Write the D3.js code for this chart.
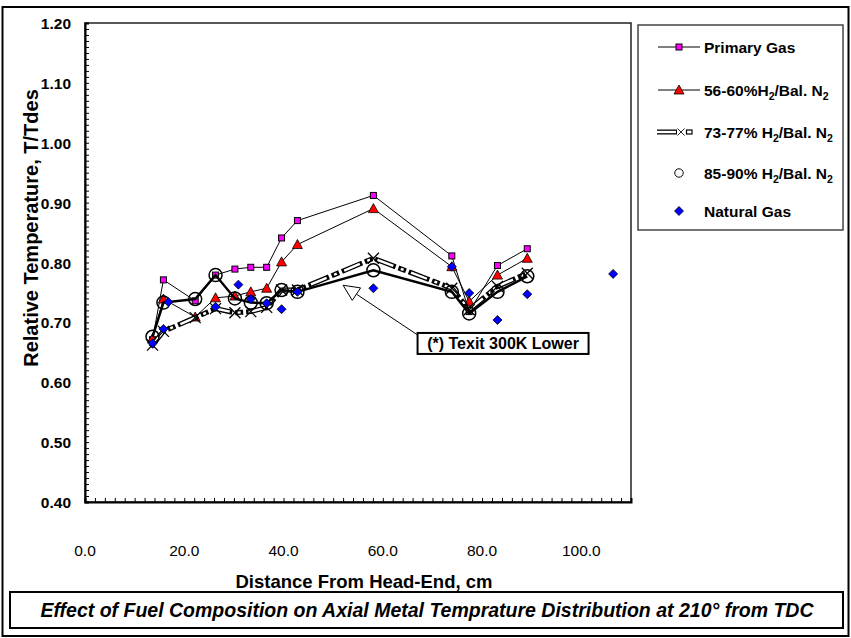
<!DOCTYPE html>
<html>
<head>
<meta charset="utf-8">
<script src="https://cdn.jsdelivr.net/npm/d3@7"></script>
<style>
  body { margin: 0; background: #fff; }
  svg text { font-family: Arial, "Liberation Sans", sans-serif; }
</style>
</head>
<body>
<div id="wrapper"></div>
<script>
// data
const distance = [13.6, 15.8, 22.2, 26.3, 30.2, 33.4, 36.6, 39.6, 42.8, 58.1, 73.9, 77.4, 83.1, 89.1]
const primaryGas = [0.671, 0.771, 0.736, 0.779, 0.789, 0.792, 0.792, 0.841, 0.870, 0.912, 0.811, 0.718, 0.795, 0.823]
const h2_56_60 = [0.673, 0.739, 0.709, 0.741, 0.744, 0.751, 0.757, 0.801, 0.830, 0.890, 0.793, 0.735, 0.779, 0.807]
const h2_73_77 = [0.662, 0.685, 0.708, 0.723, 0.716, 0.718, 0.725, 0.754, 0.754, 0.807, 0.757, 0.721, 0.760, 0.782]
const h2_85_90 = [0.676, 0.733, 0.739, 0.779, 0.740, 0.733, 0.732, 0.754, 0.751, 0.787, 0.751, 0.715, 0.751, 0.777]

const naturalDistance = [13.6, 15.8, 16.8, 26.3, 30.9, 33.4, 36.6, 39.6, 42.8, 58.1, 73.9, 77.4, 83.1, 89.1, 106.4]
const naturalGas = [0.665, 0.689, 0.734, 0.726, 0.763, 0.739, 0.732, 0.722, 0.751, 0.757, 0.793, 0.749, 0.704, 0.747, 0.781]

const xTicks = [0, 20, 40, 60, 80, 100]
const yTicks = [0.4, 0.5, 0.6, 0.7, 0.8, 0.9, 1.0, 1.1, 1.2]

// legend labels, odd parts are subscripts
const legendLabels = [
  ["Primary Gas"],
  ["56-60%H", "2", "/Bal. N", "2"],
  ["73-77% H", "2", "/Bal. N", "2"],
  ["85-90% H", "2", "/Bal. N", "2"],
  ["Natural Gas"]
]

const xTitle = "Distance From Head-End, cm"
const yTitle = "Relative Temperature, T/Tdes"
const chartTitle = "Effect of Fuel Composition on Axial Metal Temprature Distribution at 210\u00b0 from TDC"
const noteText = "(*) Texit 300K Lower"
const noteTip = [52.0, 0.762]
const noteBox = [67.0, 0.679]

function drawChart() {

  let dimensions = {
    width: 851,
    height: 638,
    plot: { left: 85, right: 631, top: 23, bottom: 502 }
  }

  const xScale = d3.scaleLinear()
    .domain([0, 110])
    .range([dimensions.plot.left, dimensions.plot.right])

  const yScale = d3.scaleLinear()
    .domain([0.4, 1.2])
    .range([dimensions.plot.bottom, dimensions.plot.top])

  const svg = d3.select("#wrapper")
    .append("svg")
    .attr("width", dimensions.width)
    .attr("height", dimensions.height)

  // outer frame
  svg.append("rect")
    .attr("x", 2.5).attr("y", 7)
    .attr("width", 846).attr("height", 629)
    .attr("fill", "#fff")
    .attr("stroke", "#000")
    .attr("stroke-width", 2)

  // plot area
  svg.append("rect")
    .attr("x", dimensions.plot.left)
    .attr("y", dimensions.plot.top)
    .attr("width", dimensions.plot.right - dimensions.plot.left)
    .attr("height", dimensions.plot.bottom - dimensions.plot.top)
    .attr("fill", "#fff")
    .attr("stroke", "#222")
    .attr("stroke-width", 1.5)

  // axes (ticks inside)
  const xMinor = d3.range(0, 110.01, 2)
  const yMinor = d3.range(0, 81).map(i => 0.4 + i * 0.01)

  const xAxis = svg.append("g")
    .attr("transform", `translate(0, ${dimensions.plot.bottom})`)
    .call(d3.axisBottom(xScale).tickValues(xMinor).tickSize(-4).tickFormat(""))
  xAxis.select(".domain").attr("stroke-width", 2)
  xAxis.selectAll(".tick line").attr("stroke-width", 1)

  const yAxis = svg.append("g")
    .attr("transform", `translate(${dimensions.plot.left}, 0)`)
    .call(d3.axisLeft(yScale).tickValues(yMinor).tickSize(-4).tickFormat(""))
  yAxis.select(".domain").attr("stroke-width", 2)
  yAxis.selectAll(".tick line").attr("stroke-width", 1)

  svg.append("g")
    .selectAll("text")
    .data(xTicks)
    .join("text")
    .attr("x", d => xScale(d))
    .attr("y", 556)
    .attr("text-anchor", "middle")
    .attr("font-size", 15.5)
    .text(d => d.toFixed(1))

  svg.append("g")
    .selectAll("text")
    .data(yTicks)
    .join("text")
    .attr("x", 71)
    .attr("y", d => yScale(d) + 6)
    .attr("text-anchor", "end")
    .attr("font-size", 15.5)
    .attr("font-weight", "bold")
    .text(d => d.toFixed(2))

  svg.append("text")
    .attr("x", 364)
    .attr("y", 588)
    .attr("text-anchor", "middle")
    .attr("font-size", 18.5)
    .attr("font-weight", "bold")
    .text(xTitle)

  svg.append("text")
    .attr("transform", `translate(38, 228) rotate(-90)`)
    .attr("text-anchor", "middle")
    .attr("font-size", 20)
    .attr("font-weight", "bold")
    .text(yTitle)

  // markers
  const markerShapes = {
    square: g => g.append("rect").attr("x", -3).attr("y", -3).attr("width", 6).attr("height", 6)
      .attr("fill", "#ff00ff").attr("stroke", "#000").attr("stroke-width", 1),
    triangle: g => g.append("path").attr("d", "M0,-5L5,4L-5,4Z")
      .attr("fill", "#ff0000").attr("stroke", "#000").attr("stroke-width", 0.8),
    cross: g => g.append("path").attr("d", "M-5.5,-5.5L5.5,5.5M-5.5,5.5L5.5,-5.5")
      .attr("fill", "none").attr("stroke", "#000").attr("stroke-width", 1.3),
    circle: g => g.append("circle").attr("r", 6.5)
      .attr("fill", "none").attr("stroke", "#000").attr("stroke-width", 1.5),
    diamond: g => g.append("path").attr("d", "M0,-4.5L4.5,0L0,4.5L-4.5,0Z")
      .attr("fill", "#0000ff").attr("stroke", "#000").attr("stroke-width", 0.8)
  }

  const lineGenerator = d3.line()
    .x(d => xScale(d[0]))
    .y(d => yScale(d[1]))

  const series = [
    { values: primaryGas, x: distance, marker: "square", line: "thin" },
    { values: h2_56_60, x: distance, marker: "triangle", line: "thin" },
    { values: h2_73_77, x: distance, marker: "cross", line: "hollow" },
    { values: h2_85_90, x: distance, marker: "circle", line: "thick" },
    { values: naturalGas, x: naturalDistance, marker: "diamond", line: "none" }
  ]

  function drawLine(g, pts, style) {
    if (style === "thin") {
      g.append("path").attr("d", lineGenerator(pts))
        .attr("fill", "none").attr("stroke", "#000").attr("stroke-width", 1)
    } else if (style === "thick") {
      g.append("path").attr("d", lineGenerator(pts))
        .attr("fill", "none").attr("stroke", "#000").attr("stroke-width", 2.5)
    } else if (style === "hollow") {
      g.append("path").attr("d", lineGenerator(pts))
        .attr("fill", "none").attr("stroke", "#000").attr("stroke-width", 5)
        .attr("stroke-linecap", "square").attr("stroke-dasharray", "17,8,3,8")
      g.append("path").attr("d", lineGenerator(pts))
        .attr("fill", "none").attr("stroke", "#fff").attr("stroke-width", 2.4)
        .attr("stroke-dasharray", "17,8,3,8")
    }
  }

  series.forEach(s => {
    const pts = s.values.map((v, i) => [s.x[i], v])
    const g = svg.append("g")
    drawLine(g, pts, s.line)
    g.selectAll("g")
      .data(pts)
      .join("g")
      .attr("transform", d => `translate(${xScale(d[0])}, ${yScale(d[1])})`)
      .each(function () { markerShapes[s.marker](d3.select(this)) })
  })

  // annotation
  const tipX = xScale(noteTip[0]), tipY = yScale(noteTip[1])
  const boxX = xScale(noteBox[0]), boxY = yScale(noteBox[1])
  const ang = Math.atan2(boxY - tipY, boxX - tipX)
  const headLen = 16, headW = 7.5
  const bx = tipX + headLen * Math.cos(ang), by = tipY + headLen * Math.sin(ang)
  svg.append("line")
    .attr("x1", bx).attr("y1", by).attr("x2", boxX).attr("y2", boxY)
    .attr("stroke", "#000").attr("stroke-width", 1)
  svg.append("path")
    .attr("d", `M${tipX},${tipY}L${bx - headW * Math.sin(ang)},${by + headW * Math.cos(ang)}L${bx + headW * Math.sin(ang)},${by - headW * Math.cos(ang)}Z`)
    .attr("fill", "#fff").attr("stroke", "#000").attr("stroke-width", 1)

  const note = svg.append("g")
  note.append("rect")
    .attr("x", boxX).attr("y", boxY - 2)
    .attr("width", 171).attr("height", 21)
    .attr("fill", "#fff").attr("stroke", "#000").attr("stroke-width", 2)
  note.append("text")
    .attr("x", boxX + 85.5).attr("y", boxY + 14)
    .attr("text-anchor", "middle")
    .attr("font-size", 16)
    .attr("font-weight", "bold")
    .text(noteText)

  // legend
  const legend = svg.append("g")
  legend.append("rect")
    .attr("x", 638).attr("y", 25)
    .attr("width", 205).attr("height", 205)
    .attr("fill", "#fff").attr("stroke", "#444").attr("stroke-width", 1.5)

  const legendY = [47, 90, 132, 173, 211]
  legendLabels.forEach((parts, i) => {
    const y = legendY[i]
    const g = legend.append("g")
    const s = series[i]
    let mx = 679, ms = 1
    if (s.line === "thin") {
      g.append("line").attr("x1", 658).attr("x2", 700).attr("y1", y).attr("y2", y)
        .attr("stroke", "#000").attr("stroke-width", 1)
    } else if (s.line === "hollow") {
      g.append("path").attr("d", `M657,${y}L677,${y}`)
        .attr("stroke", "#000").attr("stroke-width", 5)
      g.append("path").attr("d", `M657,${y}L676,${y}`)
        .attr("stroke", "#fff").attr("stroke-width", 2.4)
      g.append("rect").attr("x", 686.5).attr("y", y - 2).attr("width", 5.5).attr("height", 4)
        .attr("fill", "#fff").attr("stroke", "#000").attr("stroke-width", 1.2)
      mx = 681; ms = 0.65
    } else if (s.line === "thick") {
      ms = 0.65
    }
    const m = g.append("g")
      .attr("transform", `translate(${mx}, ${y}) scale(${ms})`)
    markerShapes[s.marker](m)

    const t = g.append("text")
      .attr("x", 704).attr("y", y + 5.5)
      .attr("font-size", 15.5)
      .attr("font-weight", "bold")
    parts.forEach((p, j) => {
      if (j % 2 === 1) {
        t.append("tspan").attr("font-size", 10.5).attr("dy", 4).text(p)
      } else {
        t.append("tspan").attr("dy", j === 0 ? 0 : -4).text(p)
      }
    })
  })

  // title box
  svg.append("rect")
    .attr("x", 10).attr("y", 592)
    .attr("width", 833).attr("height", 36)
    .attr("fill", "#fff").attr("stroke", "#000").attr("stroke-width", 2)
  svg.append("text")
    .attr("x", 427).attr("y", 617)
    .attr("text-anchor", "middle")
    .attr("font-size", 19.5)
    .attr("font-weight", "bold")
    .attr("font-style", "italic")
    .text(chartTitle)
}

drawChart()
</script>
</body>
</html>
